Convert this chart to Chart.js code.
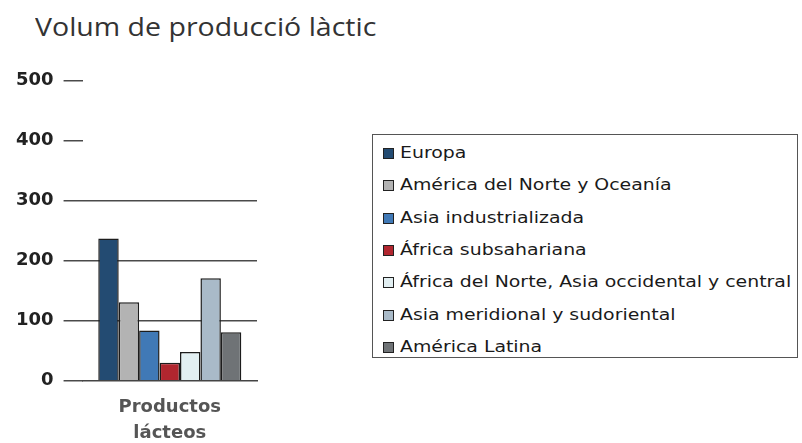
<!DOCTYPE html>
<html>
<head>
<meta charset="utf-8">
<script src="https://cdn.jsdelivr.net/npm/chart.js@4/dist/chart.umd.min.js"></script>
<style>
  body { margin: 0; background: #fff; }
  #page { position: relative; width: 802px; height: 443px; overflow: hidden; }
  #title { position: absolute; left: 35px; top: 9px; font: 25px "Open Sans", sans-serif; color: #333;
           transform: scaleX(1.14); transform-origin: left center; white-space: nowrap; }
  #wrap { position: absolute; left: 0; top: 60px; width: 270px; height: 399px; }
  #legend { position: absolute; left: 372px; top: 134px; width: 426px; height: 224px;
            border: 1.5px solid #555; box-sizing: border-box; font: 16px "DejaVu Sans", sans-serif; color: #1a1a1a; }
  .item { position: absolute; left: 10px; height: 20px; line-height: 20px; white-space: nowrap; }
  .sw { display: inline-block; width: 9px; height: 9px; border: 1.5px solid #222; margin-right: 6px; vertical-align: -1px; }
  .txt { display: inline-block; transform: scaleX(1.18); transform-origin: left center; }
</style>
</head>
<body>
<div id="page">
  <div id="title">Volum de producció làctic</div>
  <div id="wrap"><canvas id="chart"></canvas></div>
  <div id="legend"></div>
</div>
<script>
// data
const categories = [['Productos', 'lácteos']];
const regions = [
  'Europa',
  'América del Norte y Oceanía',
  'Asia industrializada',
  'África subsahariana',
  'África del Norte, Asia occidental y central',
  'Asia meridional y sudoriental',
  'América Latina'
];
const values = [237, 131, 84, 30, 48, 171, 81];
const yTicks = [0, 100, 200, 300, 400, 500];
const colors = ['#234b72', '#b3b3b3', '#4079b6', '#b1262f', '#e2eff2', '#a9bac8', '#6f7376'];

const datasets = regions.map((name, i) => ({
    label: name,
    data: [values[i]],
    backgroundColor: colors[i],
    borderColor: '#1c1c1c',
    borderWidth: 1.5,
    barPercentage: 1,
    categoryPercentage: 0.82
}));

// html legend
const legend = document.getElementById('legend');
regions.forEach((name, i) => {
    const row = document.createElement('div');
    row.className = 'item';
    row.style.top = (8 + i * 32.3) + 'px';
    row.innerHTML = `<span class="sw" style="background:${colors[i]}"></span><span class="txt">${name}</span>`;
    legend.appendChild(row);
});

const ctx = document.getElementById('chart').getContext('2d');
new Chart(ctx, {
    type: 'bar',
    data: { labels: categories, datasets: datasets },
    options: {
        responsive: true,
        maintainAspectRatio: false,
        animation: false,
        layout: { padding: { left: 6, right: 13, top: 1, bottom: 0 } },
        plugins: { legend: { display: false }, tooltip: { enabled: false } },
        scales: {
            x: {
                grid: { display: false, drawTicks: false },
                border: { display: true, color: '#444', width: 1.5 },
                ticks: {
                    padding: 13,
                    color: '#555',
                    font: { family: 'DejaVu Sans', size: 18, weight: 'bold', lineHeight: 1.45 }
                }
            },
            y: {
                min: 0,
                max: 500,
                afterBuildTicks: axis => { axis.ticks = yTicks.map(v => ({ value: v })); },
                border: { display: false },
                grid: {
                    color: c => (c.tick && c.tick.value > 0 && c.tick.value <= 300) ? '#4a4a4a' : 'rgba(0,0,0,0)',
                    tickColor: '#4a4a4a',
                    lineWidth: 1.5,
                    tickLength: 19
                },
                ticks: {
                    padding: 10,
                    color: '#222',
                    font: { family: 'DejaVu Sans', size: 18, weight: 'bold' }
                }
            }
        }
    }
});
</script>
</body>
</html>
